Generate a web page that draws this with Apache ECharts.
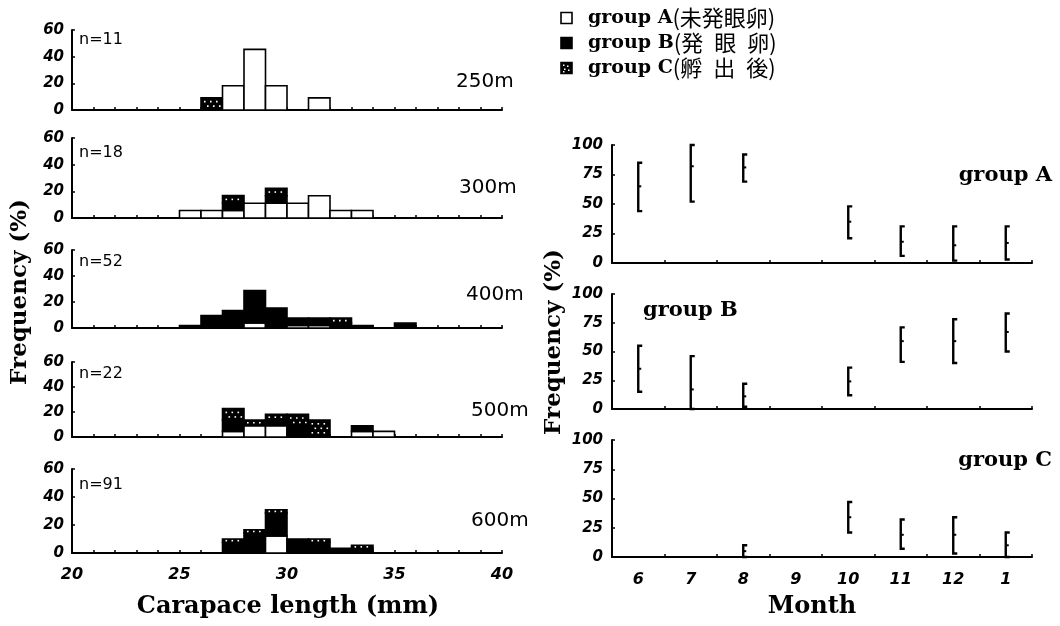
<!DOCTYPE html>
<html><head><meta charset="utf-8">
<script src="https://cdn.jsdelivr.net/npm/echarts@6/dist/echarts.min.js"></script>
<style>html,body{margin:0;padding:0;background:#fff}#c{width:1060px;height:626px}</style>
</head><body><div id="c"></div>
<script>
// ---------- data ----------
const bins = [25,26,27,28,29,30,31,32,33,34,35];
const depths = ['250m','300m','400m','500m','600m'];
const counts = ['n=11','n=18','n=52','n=22','n=91'];
const grpA_250 = [0,0,18.2,45.5,18.2,0,9.1,0,0,0,0];
const grpB_250 = [0,0,0,0,0,0,0,0,0,0,0];
const grpC_250 = [0,9.1,0,0,0,0,0,0,0,0,0];
const grpA_300 = [5.6,5.6,5.6,11.1,11.1,11.1,16.7,5.6,5.6,0,0];
const grpB_300 = [0,0,5.6,0,5.6,0,0,0,0,0,0];
const grpC_300 = [0,0,5.6,0,5.6,0,0,0,0,0,0];
const grpA_400 = [0,0,0,3.8,0,1.9,1.9,0,0,0,0];
const grpB_400 = [1.9,9.6,13.5,25.0,15.4,5.8,5.8,3.8,1.9,0,3.8];
const grpC_400 = [0,0,0,0,0,0,0,3.8,0,0,0];
const grpA_500 = [0,0,4.5,9.1,9.1,0,0,0,4.5,4.5,0];
const grpB_500 = [0,0,9.1,0,4.5,9.1,0,0,4.5,0,0];
const grpC_500 = [0,0,9.1,4.5,4.5,9.1,13.6,0,0,0,0];
const grpA_600 = [0,0,0,0,12.1,0,1.1,0,0,0,0];
const grpB_600 = [0,0,7.7,14.3,16.5,9.9,6.6,3.3,3.3,0,0];
const grpC_600 = [0,0,2.2,2.2,2.2,0,2.2,0,2.2,0,0];
const xTicks = [20,25,30,35,40];
const yTicksLeft = [0,20,40,60];

const months = ['6','7','8','9','10','11','12','1'];
const A_low  = [44,52,69,null,21,6,2,3];
const A_mid  = [65,82,81,null,35,18,15,17];
const A_high = [85,100,92,null,48,31,31,31];
const B_low  = [15,0,2,null,12,41,40,50];
const B_mid  = [35,17,11,null,24,59,59,67];
const B_high = [55,46,22,null,36,71,78,83];
const C_low  = [null,null,0,null,21,7,3,0];
const C_mid  = [null,null,5,null,34,19,19,10];
const C_high = [null,null,10,null,47,32,34,21];
const yTicksRight = [0,25,50,75,100];

// ---------- build ----------
const histA = [grpA_250,grpA_300,grpA_400,grpA_500,grpA_600];
const histB = [grpB_250,grpB_300,grpB_400,grpB_500,grpB_600];
const histC = [grpC_250,grpC_300,grpC_400,grpC_500,grpC_600];

function stackData(a,b,c){
  const out=[];
  bins.forEach((x,i)=>{
    let base=0;
    [a[i],b[i],c[i]].forEach((v,g)=>{
      if(v>0){ out.push([x,base,base+v,g]); base+=v; }
    });
  });
  return out;
}

function barItem(params, api){
  const x=api.value(0), y0=api.value(1), y1=api.value(2), g=api.value(3);
  const p0=api.coord([x,y0]), p1=api.coord([x+1,y1]);
  const r={x:p0[0], y:p1[1], width:p1[0]-p0[0], height:p0[1]-p1[1]};
  const children=[{type:'rect', shape:r, style:{fill:g===0?'#fff':'#000', stroke:'#000', lineWidth:1.6}}];
  if(g===2){
    let row=0;
    const start = r.height < 7 ? r.y + r.height/2 - 0.8 : r.y + 3;
    for(let yy=start; yy<=r.y+r.height-1.5; yy+=4.5, row++){
      for(let xx=r.x+3+(row%2)*3; xx<r.x+r.width-1.5; xx+=6){
        children.push({type:'rect', shape:{x:xx, y:yy, width:1.6, height:1.6}, style:{fill:'#fff'}});
      }
    }
  }
  return {type:'group', children};
}

function rangeItem(params, api){
  const i=api.value(0);
  const pLo=api.coord([i,api.value(1)]), pMid=api.coord([i,api.value(2)]), pHi=api.coord([i,api.value(3)]);
  const x=pLo[0], s=4;
  return {type:'group', children:[
    {type:'polyline', shape:{points:[[x+s,pHi[1]],[x,pHi[1]],[x,pLo[1]],[x+s,pLo[1]]]}, style:{stroke:'#000', lineWidth:2.4, fill:null}},
    {type:'line', shape:{x1:x,y1:pMid[1],x2:x+s-1,y2:pMid[1]}, style:{stroke:'#000', lineWidth:2}}
  ]};
}

function rangeData(lo,mid,hi){
  const out=[];
  months.forEach((m,i)=>{ if(lo[i]!=null) out.push([i,lo[i],mid[i],hi[i]]); });
  return out;
}

const labelFont = {fontFamily:'DejaVu Sans', fontWeight:'bold', fontStyle:'italic', fontSize:15, color:'#000'};
const axLine = {show:true, lineStyle:{color:'#000', width:2}};

const leftTops=[30,138,250,362,469], leftHeights=[80,80,78,75,84];
const rightTops=[145,294,440], rightHeights=[118,115,117];

const grid=[], xAxis=[], yAxis=[], series=[];
for(let k=0;k<5;k++){
  grid.push({left:72, width:430, top:leftTops[k], height:leftHeights[k]});
  xAxis.push({type:'value', gridIndex:k, min:xTicks[0], max:xTicks[xTicks.length-1], interval:1,
    axisLine:axLine, axisTick:{show:true, inside:true, length:3, lineStyle:{color:'#000', width:1.5}},
    splitLine:{show:false},
    axisLabel:Object.assign({}, labelFont, {show:k===4, margin:14, fontSize:16, formatter:v=>xTicks.includes(v)?String(v):''})});
  yAxis.push({type:'value', gridIndex:k, min:yTicksLeft[0], max:yTicksLeft[yTicksLeft.length-1], interval:20,
    axisLine:axLine, axisTick:{show:true, inside:true, length:3, lineStyle:{color:'#000', width:1.5}},
    splitLine:{show:false}, axisLabel:Object.assign({}, labelFont, {margin:8})});
  series.push({type:'custom', xAxisIndex:k, yAxisIndex:k, renderItem:barItem,
    encode:{x:0, y:[1,2]}, data:stackData(histA[k],histB[k],histC[k]), silent:true});
}
const rangeSets=[[A_low,A_mid,A_high],[B_low,B_mid,B_high],[C_low,C_mid,C_high]];
for(let k=0;k<3;k++){
  const gi=5+k;
  grid.push({left:612, width:420, top:rightTops[k], height:rightHeights[k]});
  xAxis.push({type:'category', gridIndex:gi, data:months, boundaryGap:true,
    axisLine:axLine, axisTick:{show:true, inside:true, length:3, lineStyle:{color:'#000', width:1.5}},
    splitLine:{show:false},
    axisLabel:Object.assign({}, labelFont, {show:k===2, margin:15, fontSize:16})});
  yAxis.push({type:'value', gridIndex:gi, min:yTicksRight[0], max:yTicksRight[yTicksRight.length-1], interval:25,
    axisLine:axLine, axisTick:{show:true, inside:true, length:3, lineStyle:{color:'#000', width:1.5}},
    splitLine:{show:false}, axisLabel:Object.assign({}, labelFont, {margin:9})});
  const s=rangeSets[k];
  series.push({type:'custom', xAxisIndex:gi, yAxisIndex:gi, renderItem:rangeItem,
    encode:{x:0, y:[1,2,3]}, data:rangeData(s[0],s[1],s[2]), silent:true});
}

// ---------- texts ----------
const graphic=[];
function txt(t,x,y,font,align,rot){
  const el={type:'text', x:x, y:y, style:{text:t, x:0, y:0, font:font, fill:'#000', align:align||'left', verticalAlign:'middle', textAlign:align||'left', textVerticalAlign:'middle'}};
  if(rot) el.rotation=rot;
  graphic.push(el);
}
const nY=[40,153,262,374,485], dX=[456,459,466,471,471], dY=[82,188,295,411,521];
for(let k=0;k<5;k++){
  txt(counts[k], 79, nY[k], '16px "DejaVu Sans"');
  txt(depths[k], dX[k], dY[k], '20px "DejaVu Sans"');
}
const serifB='bold 21px "DejaVu Serif"';
txt('group A', 1052, 176, serifB, 'right');
txt('group B', 643, 311, serifB, 'left');
txt('group C', 1052, 461, serifB, 'right');
txt('Carapace length (mm)', 288, 607, 'bold 24px "DejaVu Serif"', 'center');
txt('Month', 812, 607, 'bold 24px "DejaVu Serif"', 'center');
txt('Frequency (%)', 20, 292, 'bold 23px "DejaVu Serif"', 'center', Math.PI/2);
txt('Frequency (%)', 554, 342, 'bold 23px "DejaVu Serif"', 'center', Math.PI/2);

// legend
const legTexts=[['group A','(未発眼卵)'],['group B','(発\u2002眼\u2002卵)'],['group C','(孵\u2002出\u2002後)']];
const legY=[18,43,68];
legTexts.forEach((t,k)=>{
  const sq={type:'group', x:561, y:legY[k]-5.5, children:[
    {type:'rect', shape:{x:0,y:0,width:11,height:11}, style:{fill:k===0?'#fff':'#000', stroke:'#000', lineWidth:1.6}}]};
  if(k===2){ [[2,2],[6,3],[3,6],[7,7],[2,8.5]].forEach(p=>sq.children.push({type:'rect', shape:{x:p[0],y:p[1],width:1.5,height:1.5}, style:{fill:'#fff'}})); }
  graphic.push(sq);
  graphic.push({type:'text', x:588, y:legY[k], style:{text:'{a|'+t[0]+'}{b|'+t[1]+'}', x:0, y:0, verticalAlign:'middle', textVerticalAlign:'middle',
    rich:{a:{font:'bold 19px "DejaVu Serif"', fill:'#000', color:'#000'}, b:{font:'22px "Noto Sans CJK JP"', fill:'#000', color:'#000'}}}});
});

const chart=echarts.init(document.getElementById('c'), null, {renderer:'canvas'});
chart.setOption({animation:false, backgroundColor:'#fff', grid, xAxis, yAxis, series, graphic});
</script>
</body></html>
